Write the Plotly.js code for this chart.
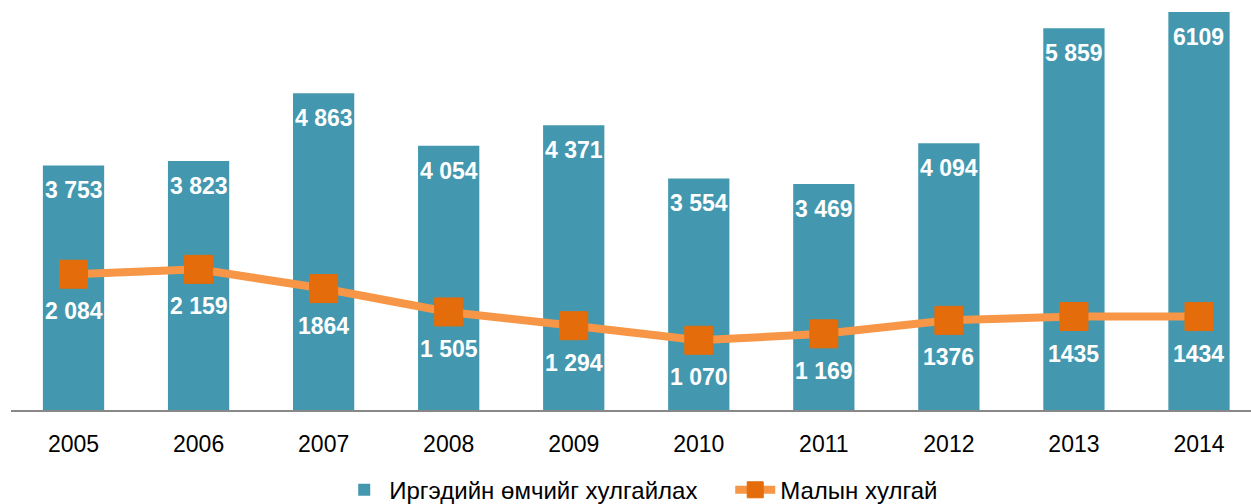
<!DOCTYPE html>
<html>
<head>
<meta charset="utf-8">
<script src="https://cdn.plot.ly/plotly-3.0.1.min.js"></script>
<style>html,body{margin:0;padding:0;background:#fff;}#chart{width:1251px;height:504px;}</style>
</head>
<body>
<div id="chart"></div>
<script>
var years = ['2005','2006','2007','2008','2009','2010','2011','2012','2013','2014'];
var theftProperty = [3753, 3823, 4863, 4054, 4371, 3554, 3469, 4094, 5859, 6109];
var theftLivestock = [2084, 2159, 1864, 1505, 1294, 1070, 1169, 1376, 1435, 1434];
var propertyLabels = ['3 753','3 823','4 863','4 054','4 371','3 554','3 469','4 094','5 859','6109'];
var livestockLabels = ['2 084','2 159','1864','1 505','1 294','1 070','1 169','1376','1435','1434'];
var seriesNames = ['Иргэдийн өмчийг хулгайлах', 'Малын хулгай'];

var FONT = 'Liberation Sans, Arial, sans-serif';

var bars = {
  type: 'bar', x: years, y: theftProperty, name: seriesNames[0],
  marker: {color: '#4398AF'}, width: 0.49, hoverinfo: 'x+y'
};
var line = {
  type: 'scatter', mode: 'lines+markers', x: years, y: theftLivestock, name: seriesNames[1],
  line: {color: '#F79646', width: 8},
  marker: {symbol: 'square', size: 28, color: '#E46C0A', line: {color: '#E46C0A', width: 1}}
};

var annotations = [];
years.forEach(function(yr, i){
  annotations.push({x: i, y: theftProperty[i], xref: 'x', yref: 'y', text: '<b>' + propertyLabels[i] + '</b>',
    showarrow: false, yanchor: 'middle', yshift: -25,
    font: {family: FONT, size: 23, color: '#ffffff'}});
  annotations.push({x: i, y: theftLivestock[i], xref: 'x', yref: 'y', text: '<b>' + livestockLabels[i] + '</b>',
    showarrow: false, yanchor: 'middle', yshift: -37,
    font: {family: FONT, size: 23, color: '#ffffff'}});
});

var layout = {
  width: 1251, height: 504,
  margin: {l: 11, r: 0, t: 5, b: 94, autoexpand: false},
  paper_bgcolor: '#ffffff', plot_bgcolor: '#ffffff',
  showlegend: true,
  legend: {orientation: 'h', x: 0.2647, xanchor: 'left', y: -0.198, yanchor: 'middle',
    entrywidth: 336, entrywidthmode: 'pixels',
    font: {family: FONT, size: 24, color: '#000'}, itemwidth: 40, traceorder: 'normal'},
  xaxis: {type: 'category', range: [-0.5, 9.416], showline: true, linecolor: '#888888', linewidth: 1.5,
    ticks: '', ticklabelstandoff: 13, showgrid: false, zeroline: false, automargin: false,
    tickfont: {family: FONT, size: 23, color: '#000'}},
  yaxis: {range: [0, 6216], visible: false, showgrid: false, zeroline: false},
  annotations: annotations,
  bargap: 0.5
};

Plotly.newPlot('chart', [bars, line], layout, {displayModeBar: false, staticPlot: true});
</script>
</body>
</html>
